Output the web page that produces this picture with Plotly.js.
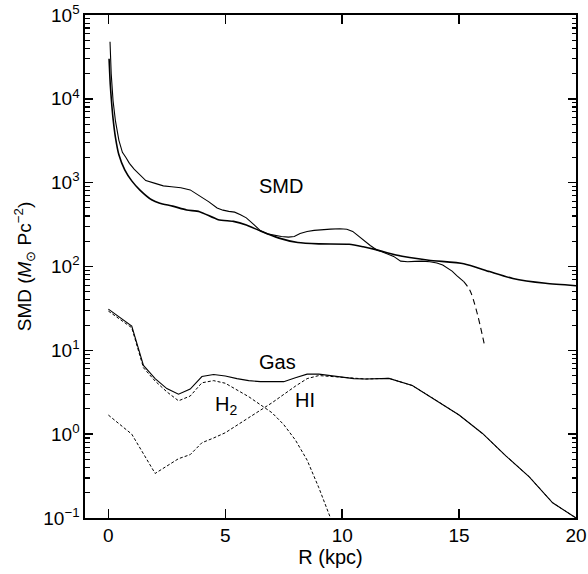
<!DOCTYPE html>
<html>
<head>
<meta charset="utf-8">
<script src="https://cdn.plot.ly/plotly-3.0.1.min.js"></script>
<style>html,body{margin:0;padding:0;background:#fff;}#plot{width:588px;height:574px;}</style>
</head>
<body>
<div id="plot"></div>
<script>
// Smooth model surface mass density
var modelR   = [0.03, 0.08, 0.14, 0.2, 0.3, 0.45, 0.7, 1.0, 1.35, 1.85, 2.2, 2.75, 3.35, 3.9, 4.7, 5.35, 5.9, 6.5, 7.3, 8.1, 9.0, 10.3, 10.9, 11.4, 12.3, 13.7, 15.2, 16.3, 17.3, 18.7, 20.0];
var modelSMD = [30000, 15000, 8850, 5800, 3500, 2150, 1420, 1050, 816, 625, 568, 525, 472, 451, 362, 345, 313, 265, 218, 193, 186, 184, 172, 160, 137, 119, 108, 87, 72, 63, 59];

// Observed (noisy) surface mass density
var obsR   = [0.07, 0.12, 0.2, 0.3, 0.45, 0.6, 0.75, 0.9, 1.1, 1.3, 1.6, 2.0, 2.35, 2.7, 3.1, 3.5, 3.9, 4.3, 4.65, 4.9, 5.15, 5.4, 5.65, 5.9, 6.2, 6.5, 6.8, 7.1, 7.4, 7.7, 7.95, 8.2, 8.5, 8.8, 9.1, 9.5, 9.9, 10.2, 10.45, 10.7, 10.95, 11.2, 11.45, 11.7, 11.95, 12.2, 12.5, 12.8, 13.1, 13.4, 13.75, 14.05, 14.3, 14.5, 14.7, 14.9, 15.1, 15.2];
var obsSMD = [48000, 20000, 9500, 5500, 3200, 2300, 2000, 1700, 1450, 1280, 1060, 980, 915, 895, 870, 820, 700, 590, 500, 470, 455, 445, 415, 380, 320, 268, 245, 235, 228, 224, 228, 248, 262, 270, 276, 279, 282, 278, 262, 230, 200, 178, 160, 150, 142, 132, 116, 114, 115, 116, 114, 110, 104, 96, 88, 78, 70, 66];

// Observed tail (dashed extrapolation)
var tailR   = [15.2, 15.46, 15.74, 16.07];
var tailSMD = [66, 52, 30, 12.1];

// Gas components
var gasR   = [0, 1, 1.5, 2, 2.5, 3, 3.5, 4, 4.5, 5, 5.5, 6, 6.5, 7, 7.5, 8, 8.5, 9, 10, 10.5, 11, 12, 13, 14, 15, 16, 17, 18, 19, 20];
var gasSMD = [31, 19.5, 6.6, 4.6, 3.5, 3.0, 3.45, 4.87, 5.15, 4.95, 4.6, 4.35, 4.23, 4.2, 4.23, 4.7, 5.2, 5.2, 4.8, 4.6, 4.55, 4.63, 3.8, 2.55, 1.69, 1.02, 0.55, 0.31, 0.152, 0.1];

var h2R   = [0, 1, 1.5, 2, 2.5, 3, 3.5, 4, 4.5, 5, 6, 7, 7.5, 8, 8.5, 9, 9.5];
var h2SMD = [29.4, 18.6, 6.2, 4.3, 3.2, 2.5, 2.85, 4.1, 4.35, 4.05, 2.8, 1.8, 1.3, 0.85, 0.49, 0.23, 0.1];

var hiR   = [0, 1, 2, 3, 3.5, 4, 4.5, 5, 6, 7, 8, 8.5, 9, 10, 10.5, 11, 12, 13, 14, 15, 16, 17, 18, 19, 20];
var hiSMD = [1.69, 1.0, 0.34, 0.51, 0.57, 0.79, 0.9, 1.04, 1.57, 2.37, 3.74, 4.6, 5.0, 4.78, 4.6, 4.55, 4.63, 3.8, 2.55, 1.69, 1.02, 0.55, 0.31, 0.152, 0.1];

// Axis ticks
var xTicks = [0, 5, 10, 15, 20];
var yTickVals = [0.1, 1, 10, 100, 1000, 10000, 100000];
var yTickText = ['10<sup>\u22121</sup>', '10<sup>0</sup>', '10<sup>1</sup>', '10<sup>2</sup>', '10<sup>3</sup>', '10<sup>4</sup>', '10<sup>5</sup>'];
var yMinorVals = [];
for (var d = 0; d < yTickVals.length - 1; d++) {
  for (var m = 2; m <= 9; m++) { yMinorVals.push(yTickVals[d] * m); }
}

var FONT = 'Liberation Sans, Arial, Helvetica, sans-serif';

var traces = [
  {x: hiR, y: hiSMD, mode: 'lines', line: {color: '#000', width: 1, dash: '3px,2px'}},
  {x: h2R, y: h2SMD, mode: 'lines', line: {color: '#000', width: 1, dash: '3px,2px'}},
  {x: gasR, y: gasSMD, mode: 'lines', line: {color: '#000', width: 1.1}},
  {x: modelR, y: modelSMD, mode: 'lines', line: {color: '#000', width: 1.6, shape: 'spline', smoothing: 0.6}},
  {x: obsR, y: obsSMD, mode: 'lines', line: {color: '#000', width: 1.1}},
  {x: tailR, y: tailSMD, mode: 'lines', line: {color: '#000', width: 1.1, dash: '6px,4px', shape: 'spline'}}
];

var layout = {
  width: 588, height: 574,
  margin: {l: 85, r: 12, t: 15, b: 56},
  paper_bgcolor: '#fff', plot_bgcolor: '#fff',
  showlegend: false,
  font: {family: FONT, size: 19, color: '#000'},
  xaxis: {
    range: [-1, 20], tickvals: xTicks, ticktext: xTicks.map(String), tickmode: 'array',
    ticks: 'inside', ticklen: 9, tickwidth: 1.4, tickcolor: '#000',
    showline: true, linecolor: '#000', linewidth: 1.6, mirror: 'ticks',
    showgrid: false, zeroline: false,
    tickfont: {family: FONT, size: 19},
    title: {text: 'R (kpc)', font: {family: FONT, size: 20}, standoff: 3}
  },
  yaxis: {
    type: 'log', range: [-1, 5],
    tickmode: 'array', tickvals: yTickVals, ticktext: yTickText,
    ticks: 'inside', ticklen: 8, tickwidth: 1.4, tickcolor: '#000',
    minor: {tickmode: 'array', tickvals: yMinorVals, ticks: 'inside', ticklen: 4.5, tickwidth: 1.1, tickcolor: '#000', showgrid: false},
    showline: true, linecolor: '#000', linewidth: 1.6, mirror: 'ticks',
    showgrid: false, zeroline: false,
    tickfont: {family: FONT, size: 19},
    title: {text: 'SMD (<i>M</i><sub>\u2299</sub> Pc<sup>\u22122</sup>)', font: {family: FONT, size: 19}, standoff: 6}
  },
  annotations: [
    {x: 7.38, y: Math.log10(912), text: 'SMD', showarrow: false, font: {family: FONT, size: 20}},
    {x: 7.24, y: Math.log10(7.3), text: 'Gas', showarrow: false, font: {family: FONT, size: 20}},
    {x: 5.05, y: Math.log10(2.2), text: 'H<sub>2</sub>', showarrow: false, font: {family: FONT, size: 20}},
    {x: 8.4, y: Math.log10(2.55), text: 'HI', showarrow: false, font: {family: FONT, size: 20}}
  ]
};

Plotly.newPlot('plot', traces, layout, {staticPlot: true, displayModeBar: false});
</script>
</body>
</html>
